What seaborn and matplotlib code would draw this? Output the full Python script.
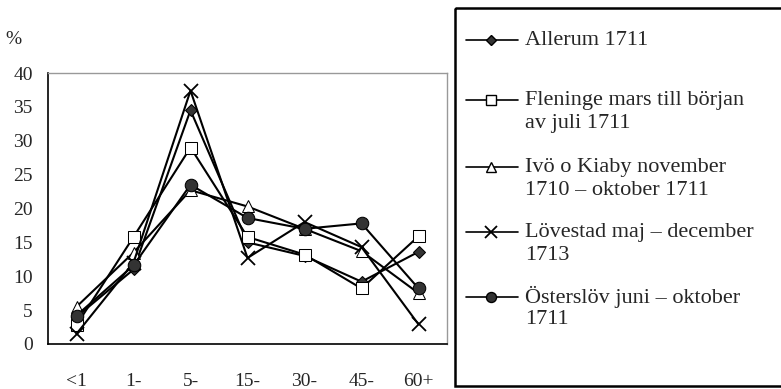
import numpy as np
import pandas as pd
import matplotlib
matplotlib.use("Agg")
import matplotlib.pyplot as plt
from matplotlib.patches import Rectangle
from matplotlib.ticker import FixedLocator
import seaborn as sns

# age groups
ages = ["<1", "1-", "5-", "15-", "30-", "45-", "60+"]

# share of deaths per age group (%)
allerum = [4.0, 11.0, 34.5, 15.0, 13.0, 9.2, 13.6]
fleninge = [2.8, 15.8, 29.0, 15.8, 13.2, 8.2, 15.9]
ivo = [5.5, 13.5, 22.7, 20.3, 17.0, 13.7, 7.5]
lovestad = [1.5, 12.0, 37.4, 12.7, 18.0, 14.3, 2.9]
osterslov = [4.2, 11.6, 23.5, 18.6, 17.0, 17.8, 8.2]

labels = [
    ["Allerum 1711"],
    ["Fleninge mars till början", "av juli 1711"],
    ["Ivö o Kiaby november", "1710 – oktober 1711"],
    ["Lövestad maj – december", "1713"],
    ["Österslöv juni – oktober", "1711"],
]
series = [allerum, fleninge, ivo, lovestad, osterslov]

sns.set_style("white")
plt.rcParams["font.family"] = ["Liberation Serif", "DejaVu Serif"]

W, H = 781, 389
fig = plt.figure(figsize=(W / 100, H / 100), dpi=100)
ax = fig.add_axes([48 / W, 1 - 344 / H, 399 / W, 271 / H])

# marker styles per series
styles = [
    dict(marker="D", markersize=6, markerfacecolor="#333333", markeredgecolor="black"),
    dict(marker="s", markersize=9, markerfacecolor="white", markeredgecolor="black"),
    dict(marker="^", markersize=9, markerfacecolor="white", markeredgecolor="black"),
    dict(marker="x", markersize=10, markeredgecolor="black", markeredgewidth=1.3),
    dict(marker="o", markersize=9, markerfacecolor="#333333", markeredgecolor="black"),
]

xpos = np.arange(len(ages))
for vals, st in zip(series, styles):
    df = pd.DataFrame({"x": xpos, "y": vals})
    sns.lineplot(data=df, x="x", y="y", ax=ax, color="black", linewidth=1.5, **st)

ax.set_xlim(-0.5, 6.5)
ax.set_ylim(0, 40)
ax.set_yticks(range(0, 41, 5))
ax.set_xticks(xpos)
ax.set_xticklabels(ages)
ax.xaxis.set_minor_locator(FixedLocator(np.arange(-0.5, 7, 1)))
ax.tick_params(axis="x", which="major", length=0, pad=21, labelsize=14)
ax.tick_params(axis="x", which="minor", length=6, width=1, direction="out", color="black")
ax.tick_params(axis="y", length=5, width=1, direction="out", color="black", pad=6, labelsize=14)
ax.set_xlabel("")
ax.set_ylabel("")

for s in ["left", "bottom"]:
    ax.spines[s].set_color("black")
    ax.spines[s].set_linewidth(1.2)
for s in ["top", "right"]:
    ax.spines[s].set_color("#999999")
    ax.spines[s].set_linewidth(1.0)

fig.text(5 / W, 1 - 40 / H, "%", fontsize=14, ha="left", va="center")

# legend, laid out by hand in pixel coordinates
lax = fig.add_axes([0, 0, 1, 1])
lax.set_xlim(0, W)
lax.set_ylim(H, 0)
lax.axis("off")
lax.add_patch(Rectangle((455, 8), 400, 378, fill=False, edgecolor="black", linewidth=1.8))
row_y = [40, 100, 167, 232, 297]
for yy, lines, st in zip(row_y, labels, styles):
    lax.plot([466, 518], [yy, yy], color="black", linewidth=1.2)
    mst = dict(st)
    mst["markersize"] = st["markersize"] * 0.8
    lax.plot([491], [yy], color="black", linewidth=0, **mst)
    for k, line in enumerate(lines):
        lax.text(525, yy + k * 23, line, fontsize=16, ha="left", va="center")

fig.savefig("out.png", dpi=100)
